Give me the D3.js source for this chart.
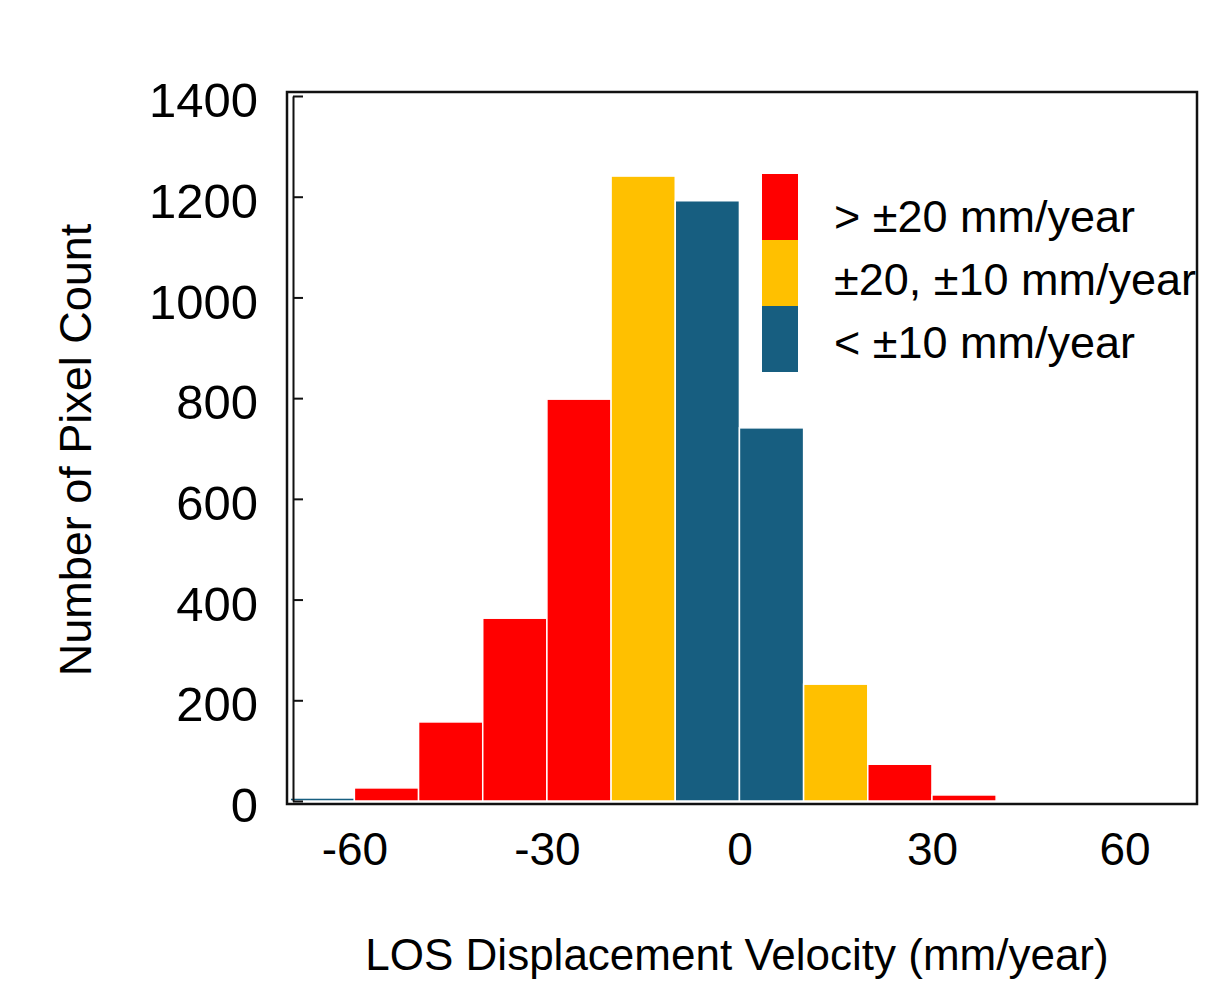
<!DOCTYPE html>
<html>
<head>
<meta charset="utf-8">
<script src="https://cdn.jsdelivr.net/npm/d3@7"></script>
<style>
	body { margin: 0; background: #fff; }
	text { font-family: "Liberation Sans", Arial, sans-serif; fill: #000; }
</style>
</head>
<body>
<svg id="chart" width="1231" height="995"></svg>
<script>
	// bins are 10 mm/year wide, keyed by their left edge
	var binStarts = [-70, -60, -50, -40, -30, -20, -10, 0, 10, 20, 30];
	var counts = [6, 26, 157, 363, 798, 1241, 1192, 741, 232, 73, 12];
	var binClass = ['low', 'high', 'high', 'high', 'high', 'mid', 'low', 'low', 'mid', 'high', 'high'];

	var classKeys = ['high', 'mid', 'low'];
	var classLabels = ['> \u00b120 mm/year', '\u00b120, \u00b110 mm/year', '< \u00b110 mm/year'];
	var classColors = ['#ff0000', '#ffc000', '#175e80'];

	var xTicks = [-60, -30, 0, 30, 60];
	var yTicks = [0, 200, 400, 600, 800, 1000, 1200, 1400];

	var svg = d3.select('#chart');

	var x = d3.scaleLinear().domain([-70.5, 71.3]).range([287, 1197]);
	var y = d3.scaleLinear().domain([0, 1400]).range([801, 96]);
	var color = d3.scaleOrdinal().domain(classKeys).range(classColors);

	var bins = binStarts.map(function(s, i){
		return { x0: s, x1: s + 10, count: counts[i], cls: binClass[i] };
	});

	svg.append('g')
		.selectAll('rect')
		.data(bins)
		.enter()
		.append('rect')
			.attr('x', (d) => x(d.x0))
			.attr('width', (d) => x(d.x1) - x(d.x0))
			.attr('y', (d) => y(d.count))
			.attr('height', (d) => y(0) - y(d.count))
			.attr('fill', (d) => color(d.cls))
			.attr('stroke', '#fff')
			.attr('stroke-width', 1.5);

	// frame
	svg.append('rect')
		.attr('x', 287)
		.attr('y', 92)
		.attr('width', 1197 - 287)
		.attr('height', 804 - 92)
		.attr('fill', 'none')
		.attr('stroke', '#111')
		.attr('stroke-width', 2.5);

	var yAxis = svg.append('g')
		.attr('transform', 'translate(293,0)')
		.call(d3.axisLeft(y).tickValues(yTicks).tickFormat((d) => String(d))
			.tickSizeInner(-10).tickSizeOuter(0).tickPadding(35));
	yAxis.selectAll('path, line').attr('stroke', '#111').attr('stroke-width', 2);
	yAxis.selectAll('text')
		.attr('font-size', 49)
		.attr('dy', '0.42em')
		.style('font-family', '"Liberation Sans", Arial, sans-serif');

	var xAxis = svg.append('g')
		.attr('transform', 'translate(0,804)')
		.call(d3.axisBottom(x).tickValues(xTicks).tickFormat((d) => String(d))
			.tickSize(0).tickPadding(28));
	xAxis.select('.domain').remove();
	xAxis.selectAll('text')
		.attr('font-size', 46)
		.style('font-family', '"Liberation Sans", Arial, sans-serif');

	svg.append('text')
		.attr('transform', 'rotate(-90)')
		.attr('x', -450)
		.attr('y', 91)
		.attr('text-anchor', 'middle')
		.attr('font-size', 45)
		.text('Number of Pixel Count');

	svg.append('text')
		.attr('x', 737)
		.attr('y', 970)
		.attr('text-anchor', 'middle')
		.attr('font-size', 44)
		.text('LOS Displacement Velocity (mm/year)');

	// legend
	var legend = svg.append('g')
		.selectAll('g')
		.data(classKeys)
		.enter()
		.append('g')
			.attr('transform', (d, i) => 'translate(762,' + (174 + i * 66) + ')');

	legend.append('rect')
		.attr('width', 36)
		.attr('height', 66)
		.attr('fill', (d) => color(d));

	legend.append('text')
		.attr('x', 72)
		.attr('y', (d, i) => 58 - i * 3)
		.attr('font-size', 45)
		.text((d, i) => classLabels[i]);
</script>
</body>
</html>
